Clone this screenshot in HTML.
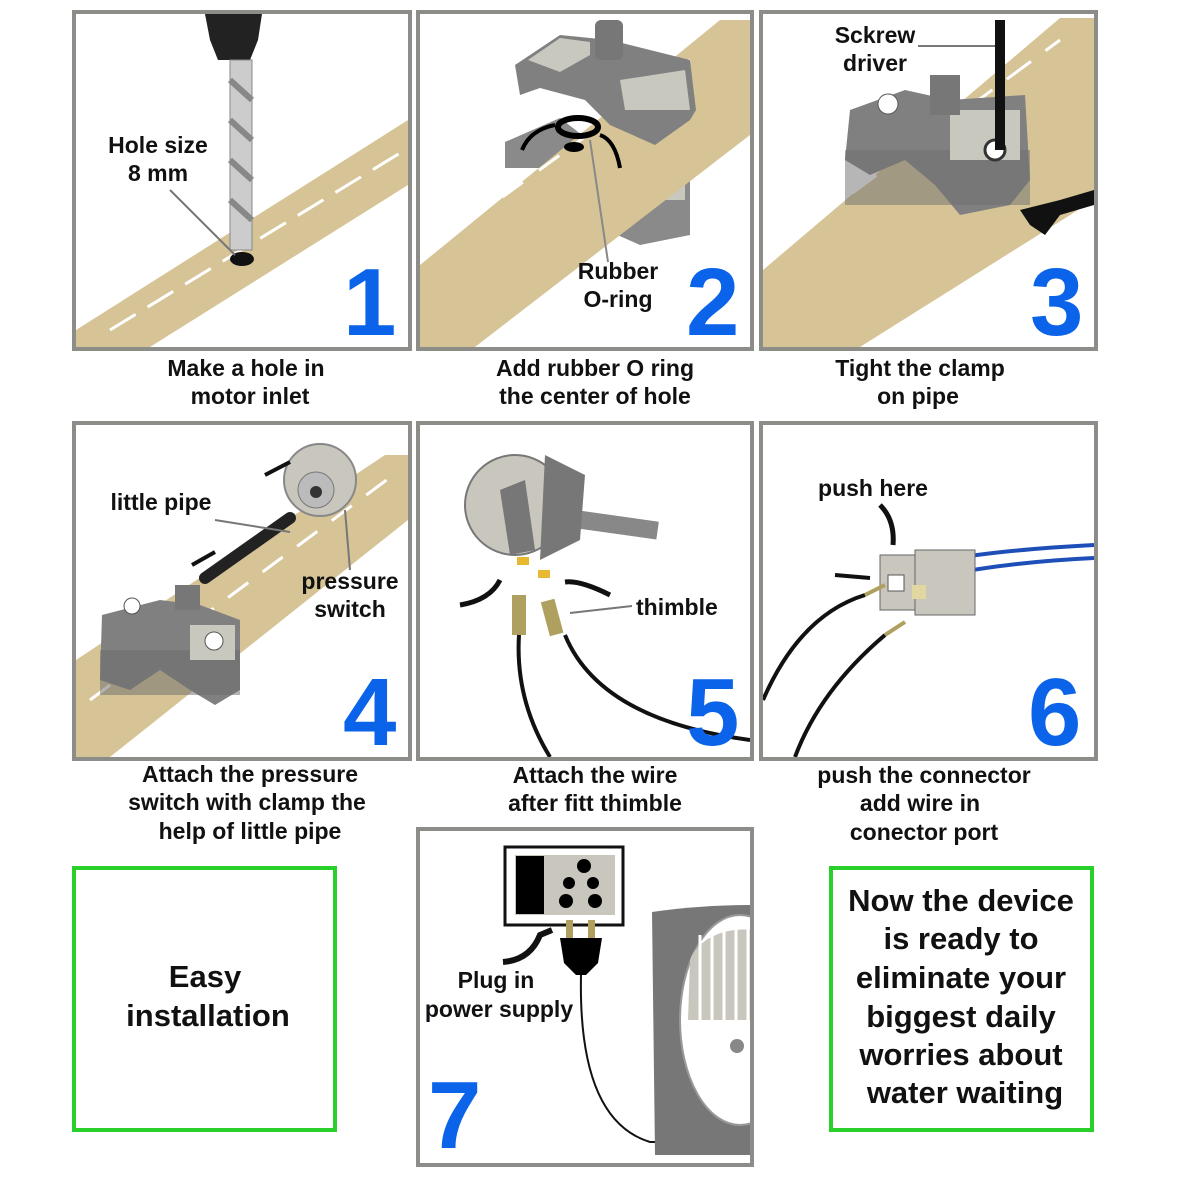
<!DOCTYPE html>
<html><head><meta charset="utf-8"><style>
html,body{margin:0;padding:0;background:#fff}
svg{display:block}
text{font-family:"Liberation Sans",sans-serif;font-weight:bold;fill:#111}
.num{fill:#0a63e8;font-size:96px;font-weight:bold}
.cap{font-size:23px;text-anchor:middle}
.lbl{font-size:23px;text-anchor:middle}
</style></head><body>
<svg width="1181" height="1181" viewBox="0 0 1181 1181" xmlns="http://www.w3.org/2000/svg">
<defs>
<clipPath id="c1"><rect x="76" y="14" width="332" height="333"/></clipPath>
<clipPath id="c2"><rect x="420" y="14" width="330" height="333"/></clipPath>
<clipPath id="c3"><rect x="763" y="14" width="331" height="333"/></clipPath>
<clipPath id="c4"><rect x="76" y="425" width="332" height="332"/></clipPath>
<clipPath id="c5"><rect x="420" y="425" width="330" height="332"/></clipPath>
<clipPath id="c6"><rect x="763" y="425" width="331" height="332"/></clipPath>
<clipPath id="c7"><rect x="420" y="831" width="330" height="332"/></clipPath>
</defs>
<g fill="none" stroke="#8c8c88" stroke-width="4">
<rect x="74" y="12" width="336" height="337"/>
<rect x="418" y="12" width="334" height="337"/>
<rect x="761" y="12" width="335" height="337"/>
<rect x="74" y="423" width="336" height="336"/>
<rect x="418" y="423" width="334" height="336"/>
<rect x="761" y="423" width="335" height="336"/>
<rect x="418" y="829" width="334" height="336"/>
</g>
<g fill="none" stroke="#2ad02a" stroke-width="4">
<rect x="74" y="868" width="261" height="262"/>
<rect x="831" y="868" width="261" height="262"/>
</g>

<!-- Panel 1 -->
<g clip-path="url(#c1)">
<polygon points="76,330 76,347 150,347 408,185 408,120" fill="#d6c497"/>
<line x1="110" y1="330" x2="405" y2="150" stroke="#fff" stroke-width="3" stroke-dasharray="30,14"/>
<polygon points="205,14 262,14 258,40 250,60 218,60 210,40" fill="#222"/>
<rect x="230" y="60" width="22" height="190" fill="#ccc" stroke="#888"/>
<path d="M230,80 L252,100 M230,120 L252,140 M230,160 L252,180 M230,200 L252,220" stroke="#888" stroke-width="6"/>
<ellipse cx="242" cy="259" rx="12" ry="7" fill="#111"/>
<line x1="170" y1="190" x2="235" y2="255" stroke="#777" stroke-width="2"/>
</g>
<text class="lbl" x="158" y="153">Hole size</text>
<text class="lbl" x="158" y="181">8 mm</text>
<text class="num" x="343" y="335">1</text>

<!-- Panel 2 -->
<g clip-path="url(#c2)">
<path d="M505,142 L560,118 L595,145 L595,168 L505,168 Z" fill="#8a8a8a"/>
<path d="M605,160 L680,155 L690,175 L690,235 L640,245 L595,225 Z" fill="#8a8a8a"/>
<rect x="635" y="170" width="50" height="30" fill="#c8c8be"/>
<polygon points="420,265 420,347 475,347 750,135 750,20 720,20" fill="#d6c497"/>
<line x1="430" y1="250" x2="690" y2="60" stroke="#fff" stroke-width="3" stroke-dasharray="25,20"/>
<path d="M515,65 L560,35 L610,40 L690,60 L696,110 L690,120 L655,145 L610,125 L585,100 L540,88 L520,95 Z" fill="#808080"/>
<polygon points="528,60 560,38 590,42 590,55 560,72" fill="#c8c8be"/>
<polygon points="620,80 685,70 690,110 625,110" fill="#c8c8be"/>
<rect x="595" y="20" width="28" height="40" rx="6" fill="#777"/>
<ellipse cx="578" cy="127" rx="20" ry="9" fill="none" stroke="#000" stroke-width="6"/>
<ellipse cx="574" cy="147" rx="10" ry="5" fill="#000"/>
<line x1="590" y1="140" x2="608" y2="262" stroke="#888" stroke-width="2"/>
<path d="M522,150 Q530,130 555,125" fill="none" stroke="#000" stroke-width="4"/>
<path d="M620,168 Q615,140 600,135" fill="none" stroke="#000" stroke-width="4"/>
</g>
<text class="lbl" x="618" y="279">Rubber</text>
<text class="lbl" x="618" y="307">O-ring</text>
<text class="num" x="686" y="335">2</text>

<!-- Panel 3 -->
<g clip-path="url(#c3)">
<polygon points="763,270 763,347 860,347 1094,200 1094,18 1060,18" fill="#d6c497"/>
<line x1="775" y1="250" x2="1060" y2="40" stroke="#fff" stroke-width="3" stroke-dasharray="30,18"/>
<path d="M850,110 L905,90 L950,100 L1025,95 L1030,180 L1010,205 L960,215 L935,185 L905,160 L870,175 L845,160 Z" fill="#808080"/>
<rect x="845" y="150" width="185" height="55" fill="#6e6e6e" opacity="0.5"/>
<rect x="950" y="110" width="70" height="50" fill="#c8c8be"/>
<rect x="930" y="75" width="30" height="40" fill="#777"/>
<circle cx="888" cy="104" r="10" fill="#fff" stroke="#555"/>
<circle cx="995" cy="150" r="10" fill="#fff" stroke="#333" stroke-width="3"/>
<rect x="995" y="20" width="10" height="130" fill="#111"/>
<path d="M1020,210 L1060,200 L1094,190 L1094,205 L1060,215 L1045,235 L1030,225 Z" fill="#111"/>
<line x1="918" y1="46" x2="995" y2="46" stroke="#777" stroke-width="2"/>
</g>
<text class="lbl" x="875" y="43">Sckrew</text>
<text class="lbl" x="875" y="71">driver</text>
<text class="num" x="1030" y="335">3</text>

<text class="cap" x="246" y="376">Make a hole in</text>
<text class="cap" x="250" y="404">motor inlet</text>
<text class="cap" x="595" y="376">Add rubber O ring</text>
<text class="cap" x="595" y="404">the center of hole</text>
<text class="cap" x="920" y="376">Tight the clamp</text>
<text class="cap" x="918" y="404">on pipe</text>

<!-- Panel 4 -->
<g clip-path="url(#c4)">
<polygon points="76,660 76,757 110,757 408,520 408,455 385,455" fill="#d6c497"/>
<line x1="90" y1="700" x2="400" y2="470" stroke="#fff" stroke-width="3" stroke-dasharray="25,18"/>
<path d="M102,615 L160,600 L200,605 L240,620 L240,690 L215,705 L190,690 L160,670 L130,690 L100,680 Z" fill="#808080"/>
<rect x="100" y="650" width="140" height="45" fill="#6a6a6a" opacity="0.5"/>
<rect x="190" y="625" width="45" height="35" fill="#c8c8be"/>
<circle cx="132" cy="606" r="8" fill="#fff" stroke="#555"/>
<circle cx="214" cy="641" r="9" fill="#fff" stroke="#555"/>
<rect x="175" y="585" width="25" height="25" fill="#777"/>
<line x1="205" y1="578" x2="290" y2="518" stroke="#222" stroke-width="12" stroke-linecap="round"/>
<circle cx="320" cy="480" r="36" fill="#c9c7bd" stroke="#888" stroke-width="2"/>
<circle cx="316" cy="490" r="18" fill="#bbb" stroke="#777"/>
<circle cx="316" cy="492" r="6" fill="#333"/>
<line x1="215" y1="520" x2="290" y2="532" stroke="#777" stroke-width="2"/>
<line x1="345" y1="510" x2="350" y2="570" stroke="#777" stroke-width="2"/>
<path d="M265,475 L290,462" stroke="#111" stroke-width="4"/>
<path d="M192,565 L215,552" stroke="#111" stroke-width="4"/>
</g>
<text class="lbl" x="161" y="510">little pipe</text>
<text class="lbl" x="350" y="589">pressure</text>
<text class="lbl" x="350" y="617">switch</text>
<text class="num" x="343" y="745">4</text>

<!-- Panel 5 -->
<g clip-path="url(#c5)">
<rect x="540" y="505" width="120" height="18" fill="#888" transform="rotate(8 540 505)"/>
<circle cx="515" cy="505" r="50" fill="#c9c7bd" stroke="#777" stroke-width="2"/>
<path d="M545,455 L585,475 L580,540 L540,560 Z" fill="#777"/>
<polygon points="500,490 525,480 535,550 510,555" fill="#777"/>
<rect x="517" y="557" width="12" height="8" fill="#e8b830"/>
<rect x="538" y="570" width="12" height="8" fill="#e8b830"/>
<rect x="512" y="595" width="14" height="40" fill="#b0a060"/>
<rect x="545" y="600" width="14" height="35" fill="#b0a060" transform="rotate(-15 552 617)"/>
<path d="M519,635 Q515,700 550,757" fill="none" stroke="#111" stroke-width="4"/>
<path d="M565,635 Q600,720 750,740" fill="none" stroke="#111" stroke-width="4"/>
<path d="M460,605 Q490,600 500,580" fill="none" stroke="#111" stroke-width="5"/>
<path d="M610,595 Q580,580 565,582" fill="none" stroke="#111" stroke-width="5"/>
<line x1="570" y1="613" x2="632" y2="606" stroke="#777" stroke-width="2"/>
</g>
<text x="636" y="615" style="font-size:23px">thimble</text>
<text class="num" x="686" y="745">5</text>

<!-- Panel 6 -->
<g clip-path="url(#c6)">
<path d="M945,560 Q1000,550 1094,545" fill="none" stroke="#1e4fb8" stroke-width="4"/>
<path d="M945,575 Q1010,562 1094,558" fill="none" stroke="#1e4fb8" stroke-width="4"/>
<rect x="880" y="555" width="40" height="55" fill="#c9c7bd" stroke="#666"/>
<rect x="915" y="550" width="60" height="65" fill="#c9c7bd" stroke="#666"/>
<rect x="888" y="575" width="16" height="16" fill="#fff" stroke="#555"/>
<rect x="912" y="585" width="14" height="14" fill="#e0d8a0"/>
<path d="M763,700 Q800,615 865,595" fill="none" stroke="#111" stroke-width="4"/>
<path d="M795,757 Q820,690 885,635" fill="none" stroke="#111" stroke-width="4"/>
<line x1="865" y1="595" x2="885" y2="585" stroke="#b0a060" stroke-width="4"/>
<line x1="885" y1="635" x2="905" y2="622" stroke="#b0a060" stroke-width="4"/>
<path d="M880,505 Q895,520 893,545" fill="none" stroke="#111" stroke-width="5"/>
<path d="M835,575 L870,578" stroke="#111" stroke-width="4"/>
</g>
<text class="lbl" x="873" y="496">push here</text>
<text class="num" x="1028" y="745">6</text>

<text class="cap" x="250" y="782">Attach the pressure</text>
<text class="cap" x="247" y="810">switch with clamp the</text>
<text class="cap" x="250" y="839">help of little pipe</text>
<text class="cap" x="595" y="783">Attach the wire</text>
<text class="cap" x="595" y="811">after fitt thimble</text>
<text class="cap" x="924" y="783">push the connector</text>
<text class="cap" x="920" y="811">add wire in</text>
<text class="cap" x="924" y="840">conector port</text>

<!-- Panel 7 -->
<g clip-path="url(#c7)">
<rect x="505" y="847" width="118" height="78" fill="#fff" stroke="#111" stroke-width="3"/>
<rect x="515" y="855" width="100" height="60" fill="#c9c7bd"/>
<rect x="516" y="856" width="28" height="58" fill="#000"/>
<circle cx="584" cy="866" r="7" fill="#000"/>
<circle cx="569" cy="883" r="6" fill="#000"/><circle cx="593" cy="883" r="6" fill="#000"/>
<circle cx="566" cy="901" r="7" fill="#000"/><circle cx="595" cy="901" r="7" fill="#000"/>
<rect x="566" y="920" width="7" height="20" fill="#b0a060"/>
<rect x="588" y="920" width="7" height="20" fill="#b0a060"/>
<path d="M560,938 L602,938 L598,963 L586,975 L576,975 L564,963 Z" fill="#000"/>
<path d="M581,975 Q578,1120 650,1142 L660,1142" fill="none" stroke="#111" stroke-width="2"/>
<path d="M503,962 Q530,960 540,935 L552,930" fill="none" stroke="#111" stroke-width="6"/>
<path d="M652,912 Q700,905 752,905 L752,1155 L655,1155 Z" fill="#777"/>
<ellipse cx="740" cy="1020" rx="60" ry="105" fill="#fff" stroke="#999" stroke-width="2"/>
<path d="M690,960 A55,40 0 0 1 752,930 L752,1020 L688,1020 Z" fill="#c9c7bd"/>
<g stroke="#fff" stroke-width="3"><line x1="700" y1="935" x2="700" y2="1020"/><line x1="712" y1="930" x2="712" y2="1020"/><line x1="724" y1="928" x2="724" y2="1020"/><line x1="736" y1="927" x2="736" y2="1020"/><line x1="748" y1="927" x2="748" y2="1020"/></g>
<circle cx="737" cy="1046" r="7" fill="#888"/>
</g>
<text class="lbl" x="496" y="988">Plug in</text>
<text class="lbl" x="499" y="1017">power supply</text>
<text class="num" x="428" y="1148">7</text>

<text x="205" y="987" style="font-size:31px;text-anchor:middle">Easy</text>
<text x="208" y="1026" style="font-size:31px;text-anchor:middle">installation</text>
<g style="font-size:31px;text-anchor:middle">
<text x="961" y="911">Now the device</text>
<text x="961" y="949">is ready to</text>
<text x="961" y="988">eliminate your</text>
<text x="961" y="1027">biggest daily</text>
<text x="961" y="1065">worries about</text>
<text x="965" y="1103">water waiting</text>
</g>
</svg>
</body></html>
